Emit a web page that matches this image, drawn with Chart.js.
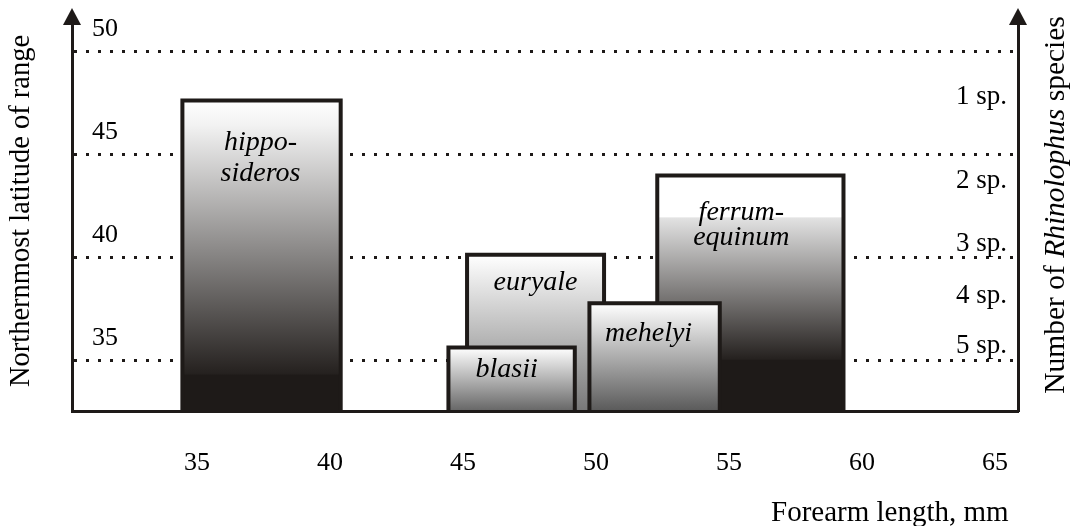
<!DOCTYPE html>
<html>
<head>
<meta charset="utf-8">
<title>Rhinolophus ranges</title>
<script src="https://cdn.jsdelivr.net/npm/chart.js@4.4.1/dist/chart.umd.min.js"></script>
<style>
  html, body { margin: 0; padding: 0; background: #fff; }
</style>
</head>
<body>
<canvas id="chart" width="1075" height="526"></canvas>
<script>
// Species boxes: forearm length range (mm) and northernmost latitude
var species = ['hipposideros', 'euryale', 'blasii', 'mehelyi', 'ferrum-equinum'];
var forearmMin = [34.45, 45.15, 44.45, 49.75, 52.3];
var forearmMax = [40.4, 50.3, 49.2, 54.65, 59.3];
var latitudeMax = [47.65, 40.15, 35.65, 37.8, 44.0];
var barText = [['hippo-', 'sideros'], ['euryale'], ['blasii'], ['mehelyi'], ['ferrum-', 'equinum']];

// Axis ticks
var xTicks = [35, 40, 45, 50, 55, 60, 65];
var yTicks = [35, 40, 45, 50];
var spLevels = [47.8, 43.75, 40.7, 38.15, 35.75];
var spLabels = ['1 sp.', '2 sp.', '3 sp.', '4 sp.', '5 sp.'];

var xMin = 30.3, xMax = 65.86;
var yMin = 32.57, yMax = 51.31;

// styling
var ink = '#1e1a18';
var serif = "'Liberation Serif', 'Times New Roman', serif";
var layer = [4, 3, 1, 0, 2];           // lower = drawn on top
var textShift = [[-1, 50], [0, 35], [-5, 29], [-6, 38], [-9, 44]];
var lineGap = [31, 0, 0, 0, 25];
var fillStops = [
  [[0, '#ffffff'], [0.08, '#f2f2f2'], [0.88, '#25211f'], [0.885, ink], [1, ink]],
  [[0, '#ffffff'], [1, '#777777']],
  [[0, '#ffffff'], [1, '#666666']],
  [[0, '#ffffff'], [1, '#5a5a5a']],
  [[0, '#ffffff'], [0.175, '#ffffff'], [0.18, '#e2e2e2'], [0.78, '#25211f'], [0.785, ink], [1, ink]]
];

function barFill(c) {
  var chart = c.chart, i = c.datasetIndex;
  var ys = chart.scales && chart.scales.y;
  if (!ys) return '#999';
  var top = ys.getPixelForValue(latitudeMax[i]);
  var bottom = ys.getPixelForValue(yMin);
  if (!isFinite(top) || !isFinite(bottom) || top === bottom) return '#999';
  var g = chart.ctx.createLinearGradient(0, top, 0, bottom);
  fillStops[i].forEach(function (s) { g.addColorStop(s[0], s[1]); });
  return g;
}

var datasets = species.map(function (name, i) {
  return {
    label: name,
    data: [
      { x: forearmMin[i], y: yMin },
      { x: forearmMin[i], y: latitudeMax[i] },
      { x: forearmMax[i], y: latitudeMax[i] },
      { x: forearmMax[i], y: yMin }
    ],
    order: layer[i],
    fill: 'start',
    backgroundColor: barFill,
    borderColor: ink,
    borderWidth: 4,
    borderJoinStyle: 'miter',
    pointRadius: 0,
    tension: 0,
    clip: false
  };
});

function noPad(s) { s.paddingTop = 0; s.paddingBottom = 0; }

var decor = {
  id: 'decor',
  afterDatasetDraw: function (chart, args) {
    var i = args.index, ctx = chart.ctx;
    var x = chart.scales.x, y = chart.scales.y;
    var cx = x.getPixelForValue((forearmMin[i] + forearmMax[i]) / 2) + textShift[i][0];
    var ty = y.getPixelForValue(latitudeMax[i]) + textShift[i][1];
    ctx.save();
    ctx.fillStyle = '#000';
    ctx.font = 'italic 28px ' + serif;
    ctx.textAlign = 'center';
    ctx.textBaseline = 'alphabetic';
    barText[i].forEach(function (t, j) { ctx.fillText(t, cx, ty + j * lineGap[i]); });
    ctx.restore();
  },
  afterDraw: function (chart) {
    var ctx = chart.ctx, a = chart.chartArea;
    ctx.save();
    // arrow heads on both vertical axes
    ctx.fillStyle = ink;
    [a.left, a.right].forEach(function (px) {
      ctx.beginPath();
      ctx.moveTo(px, 8);
      ctx.lineTo(px - 9, a.top);
      ctx.lineTo(px + 9, a.top);
      ctx.closePath();
      ctx.fill();
    });

    ctx.fillStyle = '#000';
    // x title
    ctx.font = '29px ' + serif;
    ctx.textAlign = 'left';
    ctx.textBaseline = 'alphabetic';
    ctx.fillText('Forearm length, mm', 771, 521);

    // left title
    ctx.save();
    ctx.translate(22, 211);
    ctx.rotate(-Math.PI / 2);
    ctx.font = '28.5px ' + serif;
    ctx.textAlign = 'center';
    ctx.textBaseline = 'middle';
    ctx.fillText('Northernmost latitude of range', 0, 0);
    ctx.restore();

    // right title, genus in italics
    ctx.save();
    ctx.translate(1056, 205);
    ctx.rotate(-Math.PI / 2);
    ctx.textBaseline = 'middle';
    ctx.textAlign = 'left';
    var parts = [['Number of ', ''], ['Rhinolophus', 'italic '], [' species', '']];
    var total = 0;
    parts.forEach(function (p) { ctx.font = p[1] + '29.5px ' + serif; p.w = ctx.measureText(p[0]).width; total += p.w; });
    var px = -total / 2;
    parts.forEach(function (p) { ctx.font = p[1] + '29.5px ' + serif; ctx.fillText(p[0], px, 0); px += p.w; });
    ctx.restore();
    ctx.restore();
  }
};

new Chart(document.getElementById('chart').getContext('2d'), {
  type: 'line',
  data: { datasets: datasets },
  options: {
    responsive: false,
    animation: false,
    layout: { padding: { top: 25, left: 0, right: 0, bottom: 0 } },
    plugins: { legend: { display: false }, tooltip: { enabled: false } },
    scales: {
      x: {
        type: 'linear',
        min: xMin,
        max: xMax,
        afterBuildTicks: function (s) { s.ticks = xTicks.map(function (v) { return { value: v }; }); },
        afterFit: function (s) { s.height = 115; },
        grid: { display: false, drawTicks: false },
        border: { color: ink, width: 3, z: 1 },
        ticks: { autoSkip: false, maxRotation: 0, padding: 37, color: '#000', font: { family: serif, size: 26 } }
      },
      y: {
        type: 'linear',
        position: 'left',
        min: yMin,
        max: yMax,
        afterBuildTicks: function (s) { s.ticks = yTicks.map(function (v) { return { value: v }; }); },
        afterFit: function (s) { s.width = 72; noPad(s); },
        grid: { color: ink, lineWidth: 3, drawTicks: false },
        border: { color: ink, width: 3, dash: [3, 9] },
        ticks: { mirror: true, padding: 20, labelOffset: -23, color: '#000', font: { family: serif, size: 26 } }
      },
      y2: {
        type: 'linear',
        position: 'right',
        min: yMin,
        max: yMax,
        afterBuildTicks: function (s) { s.ticks = spLevels.map(function (v) { return { value: v }; }); },
        afterFit: function (s) { s.width = 57; noPad(s); },
        grid: { display: false, drawTicks: false },
        border: { color: ink, width: 3 },
        ticks: {
          mirror: true, padding: -11, autoSkip: false, color: '#000',
          font: { family: serif, size: 27 },
          callback: function (v, i) { return spLabels[i]; }
        }
      }
    }
  },
  plugins: [decor]
});
</script>
</body>
</html>
